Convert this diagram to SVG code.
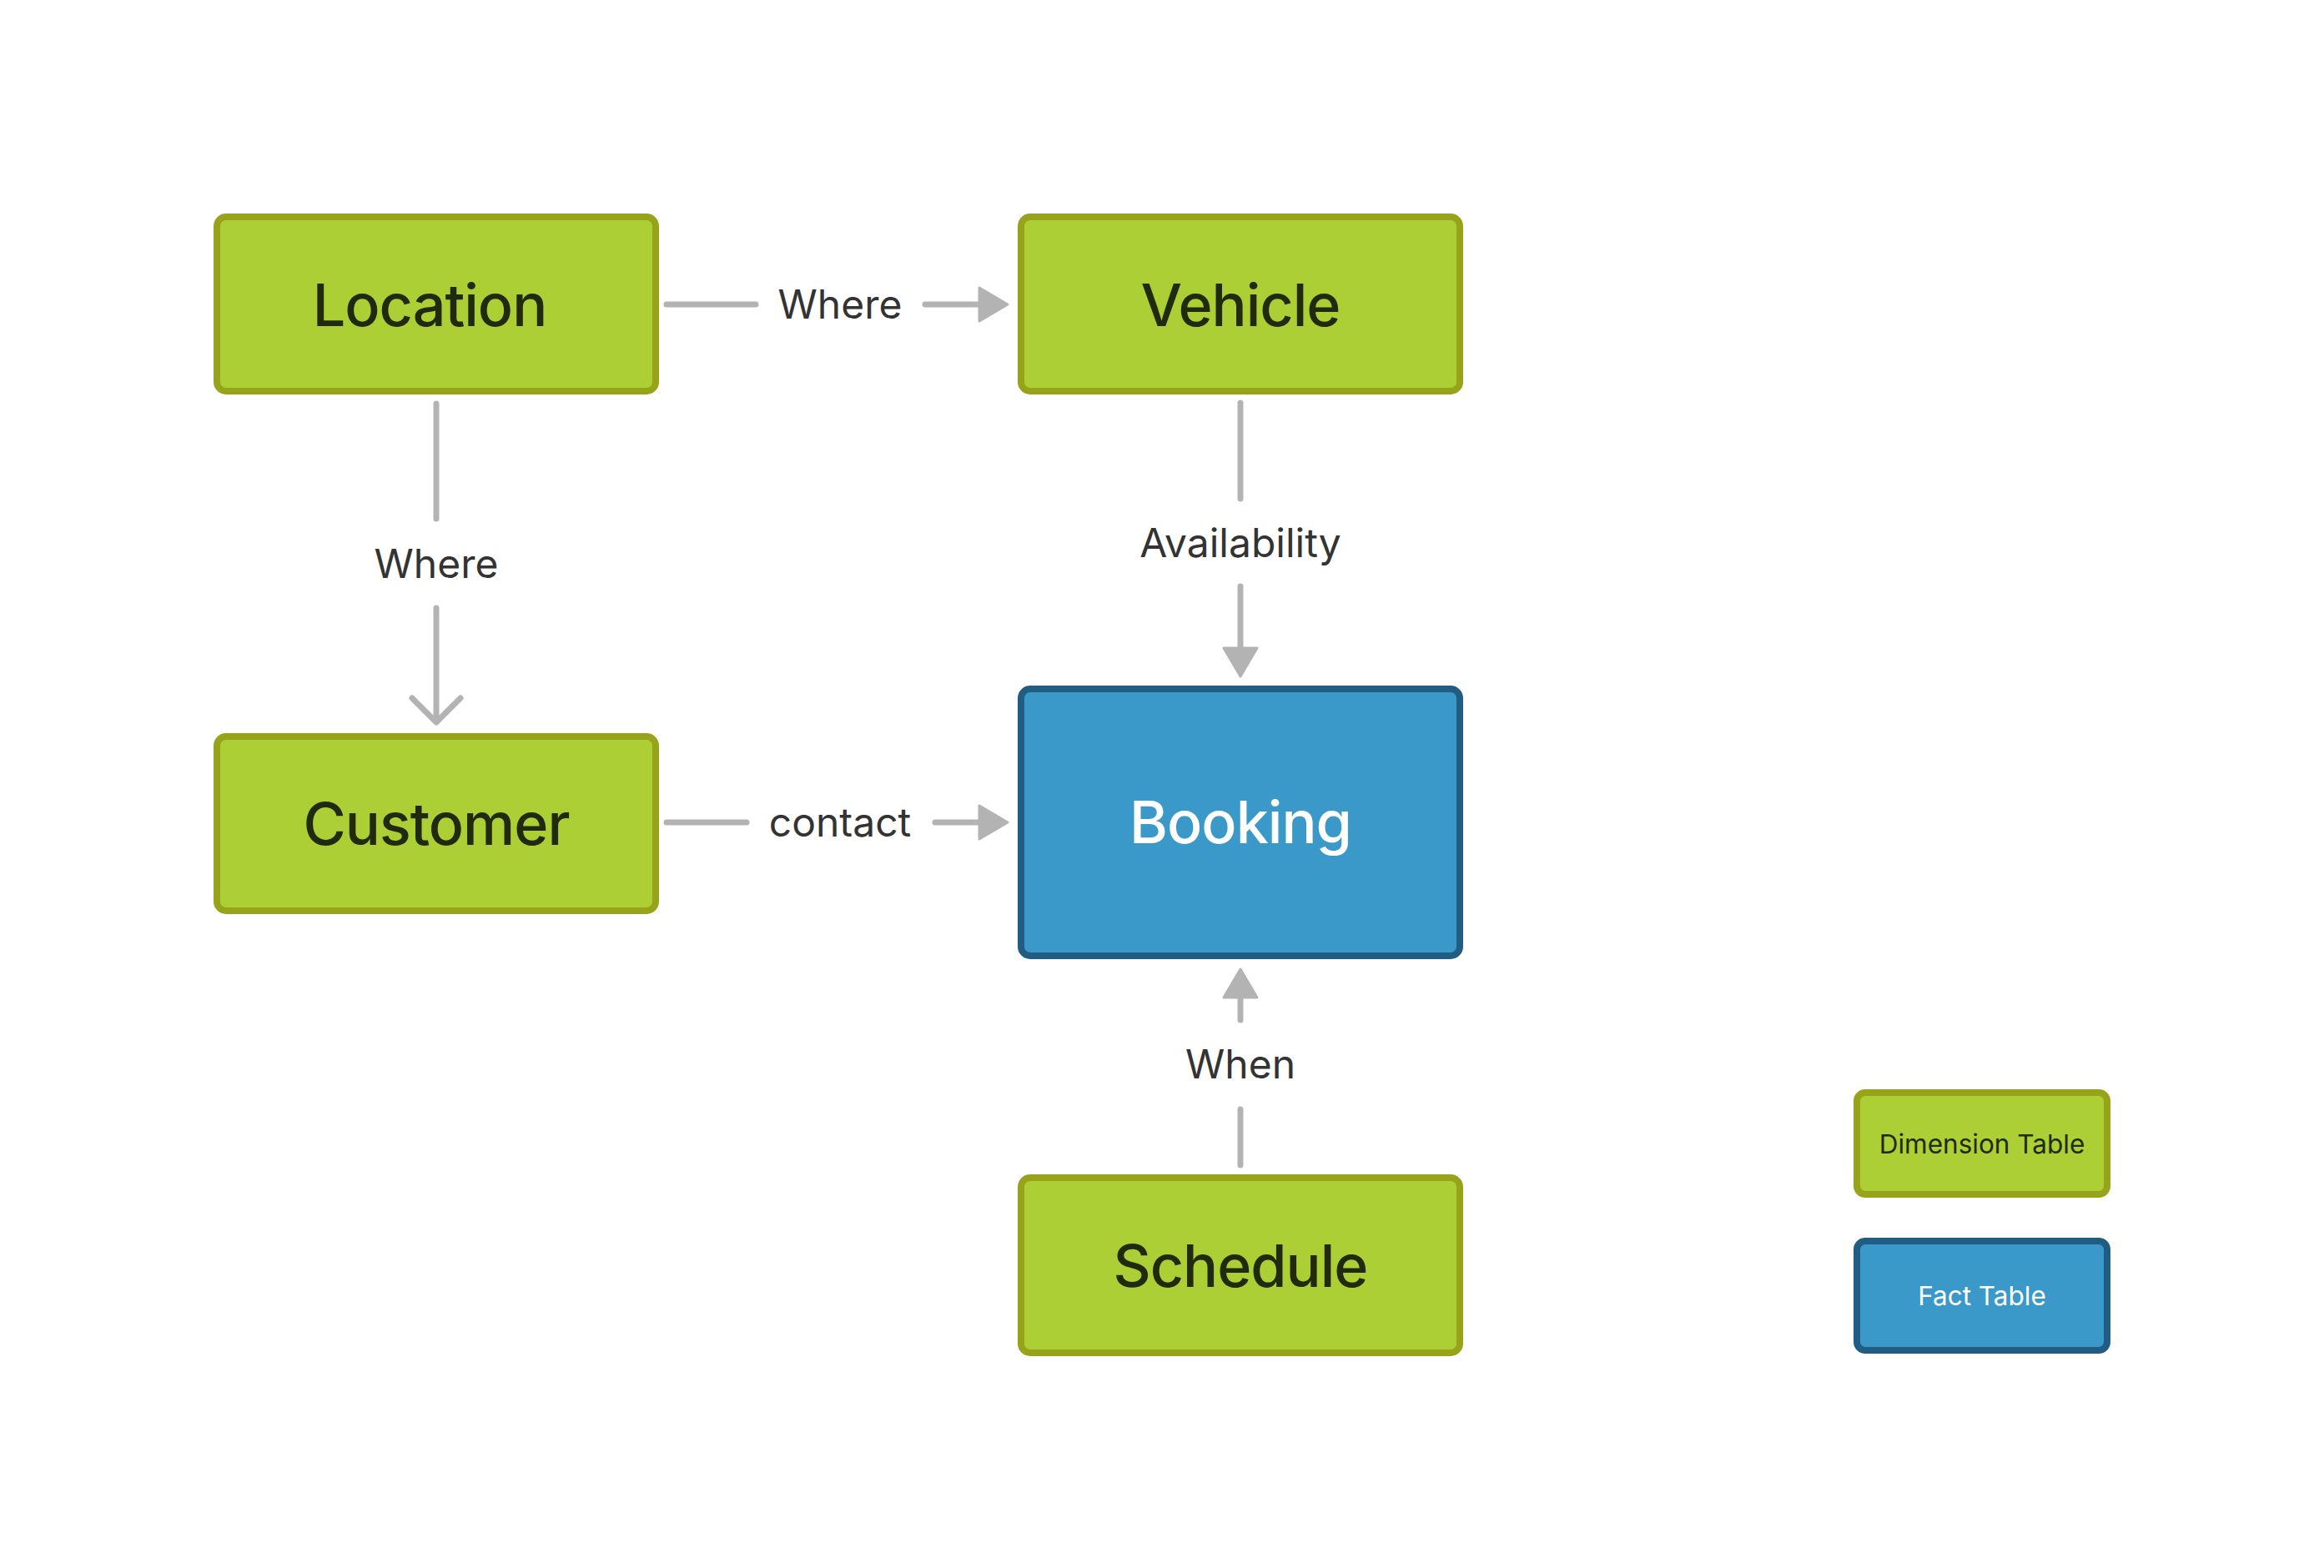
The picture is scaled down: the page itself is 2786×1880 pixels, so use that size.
<svg xmlns="http://www.w3.org/2000/svg" width="2786" height="1880" viewBox="0 0 2786 1880">
  <style>
    .dim rect { fill: #accf35; stroke: #97a318; stroke-width: 8; }
    .fact rect { fill: #3a99c8; stroke: #215d82; stroke-width: 8; }
    .dim text { fill: #222a0d; }
    .fact text { fill: #ffffff; }
    .node text { font-family: Inter, "Liberation Sans", sans-serif; font-size: 70px; font-weight: 500; letter-spacing: -1px; text-anchor: middle; }
    .legend text { font-family: Inter, "Liberation Sans", sans-serif; font-size: 31.5px; text-anchor: middle; }
    .conn line, .conn path { stroke: #b3b3b3; stroke-width: 7; stroke-linecap: round; fill: none; }
    .conn text { font-family: Inter, "Liberation Sans", sans-serif; font-size: 48px; fill: #333333; text-anchor: middle; }
  </style>
  <defs>
    <marker id="arrow" markerUnits="userSpaceOnUse" markerWidth="44" markerHeight="44" refX="2" refY="22" orient="auto" viewBox="0 0 44 44">
      <path d="M2,2 L36,22 L2,42 Z" fill="#b3b3b3" stroke="#b3b3b3" stroke-width="3" stroke-linejoin="round"/>
    </marker>
  </defs>
  <rect width="2786" height="1880" fill="#ffffff"/>

  <g id="connectors" class="conn">
    <g id="edge-location-vehicle">
      <line x1="799" y1="365" x2="906" y2="365"/>
      <line x1="1109" y1="365" x2="1174" y2="365" marker-end="url(#arrow)"/>
      <text x="1007" y="382">Where</text>
    </g>
    <g id="edge-location-customer">
      <line x1="523" y1="484" x2="523" y2="622"/>
      <line x1="523" y1="729" x2="523" y2="864"/>
      <path d="M494,837 L523,866 L552,837" stroke-linejoin="round"/>
      <text x="523" y="693">Where</text>
    </g>
    <g id="edge-vehicle-booking">
      <line x1="1487" y1="483" x2="1487" y2="598"/>
      <line x1="1487" y1="703" x2="1487" y2="777" marker-end="url(#arrow)"/>
      <text x="1487" y="668">Availability</text>
    </g>
    <g id="edge-customer-booking">
      <line x1="799" y1="986" x2="895" y2="986"/>
      <line x1="1121" y1="986" x2="1174" y2="986" marker-end="url(#arrow)"/>
      <text x="1007" y="1003">contact</text>
    </g>
    <g id="edge-schedule-booking">
      <line x1="1487" y1="1397" x2="1487" y2="1330"/>
      <line x1="1487" y1="1223" x2="1487" y2="1196" marker-end="url(#arrow)"/>
      <text x="1487" y="1293">When</text>
    </g>
  </g>

  <g id="location" class="node dim">
    <rect x="260" y="260" width="526" height="209" rx="11"/>
    <text x="515" y="391">Location</text>
  </g>
  <g id="vehicle" class="node dim">
    <rect x="1224" y="260" width="526" height="209" rx="11"/>
    <text x="1487" y="391">Vehicle</text>
  </g>
  <g id="customer" class="node dim">
    <rect x="260" y="883" width="526" height="209" rx="11"/>
    <text x="523" y="1013">Customer</text>
  </g>
  <g id="booking" class="node fact">
    <rect x="1224" y="826" width="526" height="320" rx="11"/>
    <text x="1487" y="1011">Booking</text>
  </g>
  <g id="schedule" class="node dim">
    <rect x="1224" y="1412" width="526" height="210" rx="11"/>
    <text x="1487" y="1543">Schedule</text>
  </g>

  <g id="legend-dimension" class="legend dim">
    <rect x="2226" y="1310" width="300" height="122" rx="10"/>
    <text x="2376" y="1383">Dimension Table</text>
  </g>
  <g id="legend-fact" class="legend fact">
    <rect x="2226" y="1488" width="300" height="131" rx="10"/>
    <text x="2376" y="1565">Fact Table</text>
  </g>
</svg>
